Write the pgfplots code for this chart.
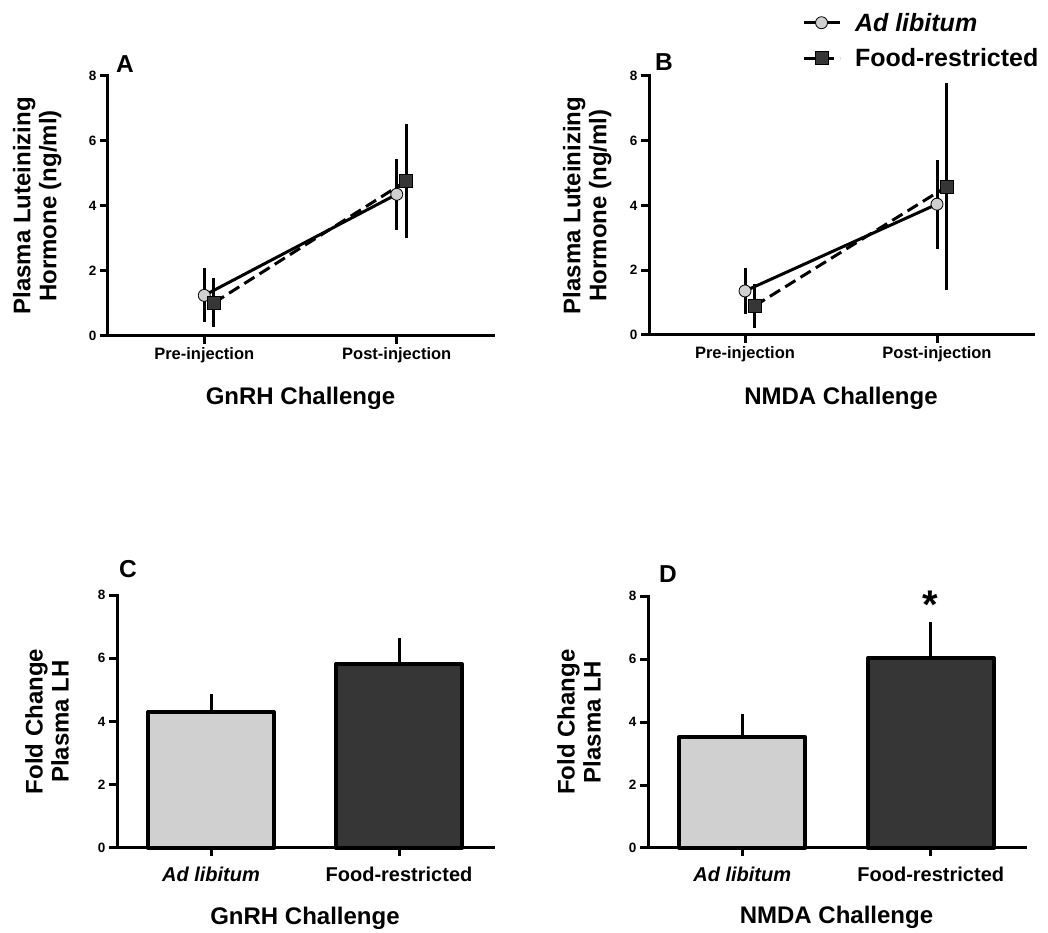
\documentclass[border=0pt]{standalone}
\usepackage{fontspec}
\setmainfont{Liberation Sans}
\usepackage{pgfplots}
\pgfplotsset{compat=1.18}

\definecolor{clrLight}{HTML}{D0D0D0}
\definecolor{clrDark}{HTML}{363636}

\newcommand{\fs}[1]{\fontsize{#1}{#1}\selectfont}

\pgfplotsset{
  panel/.style={
    scale only axis,
    axis lines=left,
    axis line style={-, line width=3pt, line cap=rect},
    xmin=-0.5, xmax=1.5, ymin=0, ymax=8,
    xtick={0,1}, ytick={0,2,4,6,8},
    tick align=outside,
    major tick length=8pt,
    tick style={black, line width=3pt},
    yticklabel style={font=\bfseries\fs{13.5},
      /pgf/number format/assume math mode=true},
    xlabel style={font=\bfseries\fs{24}, anchor=base},
    ylabel style={font=\bfseries\fontsize{24}{26}\selectfont, align=center, anchor=center},
    clip=false,
  },
  linepanel/.style={panel,
    xticklabels={Pre-injection, Post-injection},
    xticklabel style={font=\bfseries\fs{16.5}},
    ylabel={Plasma Luteinizing\\Hormone (ng/ml)},
  },
  barpanel/.style={panel,
    xticklabels={\itshape Ad libitum, Food-restricted},
    xticklabel style={font=\bfseries\fs{20}, yshift=-7pt},
    ylabel={Fold Change\\Plasma LH},
  },
  adlib/.style={black, line width=3pt, mark=*, mark size=6pt,
    mark options={solid, fill=clrLight, draw=black, line width=0.8pt},
    error bars/y dir=both, error bars/y explicit, error bars/error mark=none,
    error bars/error bar style={solid, line width=3pt}},
  foodr/.style={black, line width=3pt, dash pattern=on 12pt off 6pt,
    mark=square*, mark size=6.5pt,
    mark options={solid, fill=clrDark, draw=black, line width=0.8pt},
    error bars/y dir=both, error bars/y explicit, error bars/error mark=none,
    error bars/error bar style={solid, line width=3pt}},
  barstyle/.style={ybar, bar width=126pt, bar shift=0pt, draw=black,
    line width=4pt, line join=round,
    error bars/y dir=plus, error bars/y explicit, error bars/error mark=none,
    error bars/error bar style={line width=3pt}},
}

\begin{document}
\begin{tikzpicture}
\useasboundingbox (0,0) rectangle (1048pt,933pt);

% A
\begin{axis}[linepanel, width=385pt, height=260pt,
  at={(108pt,597pt)}, anchor=south west,
  xlabel={GnRH Challenge},
  xlabel style={at={(axis description cs:0.5,-0.265)}},
  ylabel style={at={(axis description cs:-0.184,0.5)}}]
\addplot[adlib] coordinates {(0,1.25) +- (0,0.83) (1,4.36) +- (0,1.10)};
\addplot[foodr] coordinates {(0.05,1.02) +- (0,0.75) (1.05,4.77) +- (0,1.75)};
\end{axis}

% B
\begin{axis}[linepanel, width=384pt, height=259pt,
  at={(649pt,598pt)}, anchor=south west,
  xlabel={NMDA Challenge},
  xlabel style={at={(axis description cs:0.5,-0.27)}},
  ylabel style={at={(axis description cs:-0.161,0.5)}},
  legend style={at={(axis description cs:0.398,1.252)}, anchor=north west,
    draw=none, fill=none, font=\bfseries\fs{25}, cells={anchor=west},
    row sep=12pt, column sep=12pt, inner sep=0pt},
  legend image code/.code={\draw[mark repeat=2, mark phase=2, #1]
    plot coordinates {(0pt,0pt) (18pt,0pt) (36pt,0pt)};}]
\addplot[adlib] coordinates {(0,1.36) +- (0,0.71) (1,4.04) +- (0,1.37)};
\addlegendentry{\itshape Ad libitum}
\addplot[foodr] coordinates {(0.05,0.90) +- (0,0.68) (1.05,4.58) +- (0,3.20)};
\addlegendentry{Food-restricted}
\end{axis}

% C
\begin{axis}[barpanel, width=376pt, height=253pt,
  at={(117pt,85pt)}, anchor=south west,
  xlabel={GnRH Challenge},
  xlabel style={at={(axis description cs:0.5,-0.304)}},
  ylabel style={at={(axis description cs:-0.186,0.5)}}]
\addplot[barstyle, fill=clrLight] coordinates {(0,4.30) +- (0,0.57)};
\addplot[barstyle, fill=clrDark] coordinates {(1,5.82) +- (0,0.82)};
\end{axis}

% D
\begin{axis}[barpanel, width=377pt, height=252pt,
  at={(648pt,85pt)}, anchor=south west,
  xlabel={NMDA Challenge},
  xlabel style={at={(axis description cs:0.5,-0.298)}},
  ylabel style={at={(axis description cs:-0.183,0.5)}}]
\addplot[barstyle, fill=clrLight] coordinates {(0,3.53) +- (0,0.72)};
\addplot[barstyle, fill=clrDark] coordinates {(1,6.03) +- (0,1.13)};
\node[font=\bfseries\fs{40}, anchor=base] at (axis cs:1,7.27) {*};
\end{axis}

\node[font=\bfseries\fs{24.5}, anchor=base] at (125pt,860pt) {A};
\node[font=\bfseries\fs{24.5}, anchor=base] at (664pt,862pt) {B};
\node[font=\bfseries\fs{24.5}, anchor=base] at (128pt,355pt) {C};
\node[font=\bfseries\fs{24.5}, anchor=base] at (668pt,350pt) {D};
\end{tikzpicture}
\end{document}
